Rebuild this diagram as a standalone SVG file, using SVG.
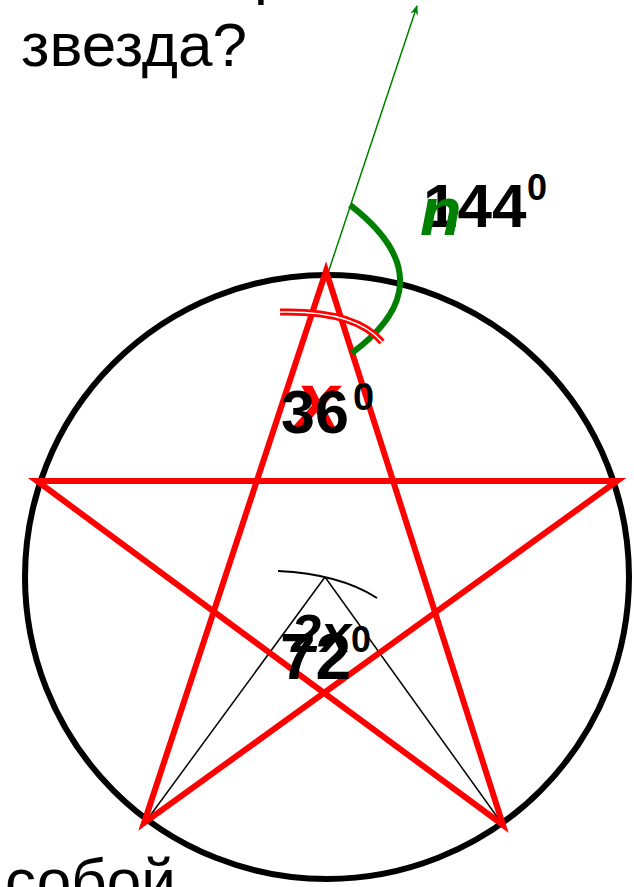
<svg xmlns="http://www.w3.org/2000/svg" width="634" height="887" viewBox="0 0 634 887">
  <style>
    .txt { font-family: "Liberation Sans", Arial, sans-serif; fill: #000; font-size: 62px; }
    .num { font-family: "Liberation Sans", Arial, sans-serif; font-weight: bold; fill: #000; }
    .red { stroke: #ff0000; fill: none; }
  </style>
  <defs>
    <marker id="garrow" viewBox="0 0 10 10" refX="9" refY="5" markerWidth="10" markerHeight="10" markerUnits="userSpaceOnUse" orient="auto">
      <path d="M0,1 L10,5 L0,9 L3,5 Z" fill="#008000"/>
    </marker>
  </defs>
  <rect width="634" height="887" fill="#fff"/>

  <g id="title-text">
    <text class="txt" x="254" y="-8">р</text>
    <text class="txt" x="21" y="66">звезда?</text>
    <text class="txt" x="5" y="902">собой</text>
  </g>

  <g id="circle">
    <circle cx="327" cy="577" r="302" fill="none" stroke="#000" stroke-width="6"/>
  </g>

  <g id="connectors">
    <line x1="328" y1="273" x2="417" y2="6" stroke="#008000" stroke-width="1.5" marker-end="url(#garrow)"/>
    <line x1="325" y1="577" x2="144" y2="824" stroke="#000" stroke-width="1.5"/>
    <line x1="325" y1="577" x2="503" y2="825" stroke="#000" stroke-width="1.5"/>
    <path d="M278,571 Q340,574 377,598" fill="none" stroke="#000" stroke-width="2"/>
  </g>

  <g id="star">
    <polygon points="326,271 503,825 37,481 617,481 144,823" class="red" stroke-width="6" stroke-linejoin="miter"/>
  </g>

  <g id="angle-marks">
    <path d="M350,205 C385,232 405,262 399,292 C394,318 372,338 352,353" fill="none" stroke="#008000" stroke-width="6"/>
    <path d="M280,312 C322,311 362,318 382,342" class="red" stroke-width="7"/>
    <path d="M280,312 C322,311 362,318 382,342" fill="none" stroke="#fff" stroke-width="1.5"/>
  </g>

  <g id="label-144">
    <text class="num" x="423" y="227" font-size="62">144</text>
    <text class="num" x="527" y="200" font-size="36">0</text>
    <text x="420" y="235" font-family="Liberation Sans, Arial, sans-serif" font-weight="bold" font-style="italic" font-size="68" fill="#008000">n</text>
  </g>

  <g id="label-36">
    <text x="296" y="427" font-family="Liberation Sans, Arial, sans-serif" font-weight="bold" font-style="italic" font-size="78" fill="#ff0000">x</text>
    <text class="num" x="281" y="433" font-size="61">36</text>
    <text class="num" x="353" y="410" font-size="38">0</text>
  </g>

  <g id="label-72">
    <text class="num" x="280" y="679" font-size="64">72</text>
    <text x="291" y="652" font-family="Liberation Sans, Arial, sans-serif" font-weight="bold" font-style="italic" font-size="54" fill="#000">2x</text>
    <text class="num" x="351" y="652" font-size="36">0</text>
  </g>
</svg>
